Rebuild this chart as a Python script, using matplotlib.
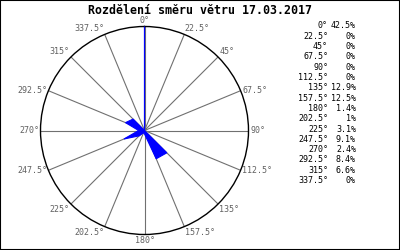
import matplotlib
matplotlib.use("Agg")
import matplotlib.pyplot as plt
import numpy as np

title = "Rozdělení směru větru 17.03.2017"
directions = [0, 22.5, 45, 67.5, 90, 112.5, 135, 157.5, 180, 202.5,
              225, 247.5, 270, 292.5, 315, 337.5]
shares = [42.5, 0, 0, 0, 0, 0, 12.9, 12.5, 1.4, 1, 3.1, 9.1, 2.4, 8.4, 6.6, 0]
share_labels = ["42.5%", "0%", "0%", "0%", "0%", "0%", "12.9%", "12.5%",
                "1.4%", "1%", "3.1%", "9.1%", "2.4%", "8.4%", "6.6%", "0%"]
dir_labels = ["%g°" % d for d in directions]

mono = "DejaVu Sans Mono"
W, H = 400, 250
fig = plt.figure(figsize=(4, 2.5), dpi=100)

# background axes in pixel coordinates: frame, title, table
bg = fig.add_axes([0, 0, 1, 1])
bg.set_xlim(0, W)
bg.set_ylim(H, 0)
bg.set_xticks([])
bg.set_yticks([])
for s in bg.spines.values():
    s.set_color("black")
    s.set_linewidth(1.5)

bg.text(200, 10, title, ha="center", va="center", fontsize=8.4,
        fontweight="bold", family=mono, color="black")

for i, (dl, sl) in enumerate(zip(dir_labels, share_labels)):
    y = 25.7 + i * 10.33
    bg.text(328, y, dl, ha="right", va="center", fontsize=6, family=mono, color="black")
    bg.text(356, y, sl, ha="right", va="center", fontsize=6, family=mono, color="black")

# wind rose
cx, cy, R = 144.5, 130.5, 104
ax = fig.add_axes([(cx - R) / W, (H - cy - R) / H, 2 * R / W, 2 * R / H], projection="polar")
ax.set_theta_zero_location("N")
ax.set_theta_direction(-1)
rmax = max(shares)
ax.set_ylim(0, rmax)
ax.grid(False)
ax.set_xticks([])
ax.set_yticks([])
ax.spines["polar"].set_color("black")
ax.spines["polar"].set_linewidth(1.0)

th = np.radians(directions)
for t in th:
    ax.plot([t, t], [0, rmax], color="#707070", lw=0.8, zorder=1)

ax.fill(np.append(th, th[0]), shares + [shares[0]], facecolor="blue",
        edgecolor="blue", lw=0.8, zorder=3)

for t, d, lab in zip(th, directions, dir_labels):
    s, c = np.sin(t), np.cos(t)
    ha = "left" if s > 0.1 else ("right" if s < -0.1 else "center")
    va = "bottom" if c > 0.5 else ("top" if c < -0.5 else "center")
    ax.text(t, rmax * 1.015, lab, ha=ha, va=va, fontsize=6, family=mono,
            color="#606060", clip_on=False)

fig.savefig("out.png", dpi=100)
